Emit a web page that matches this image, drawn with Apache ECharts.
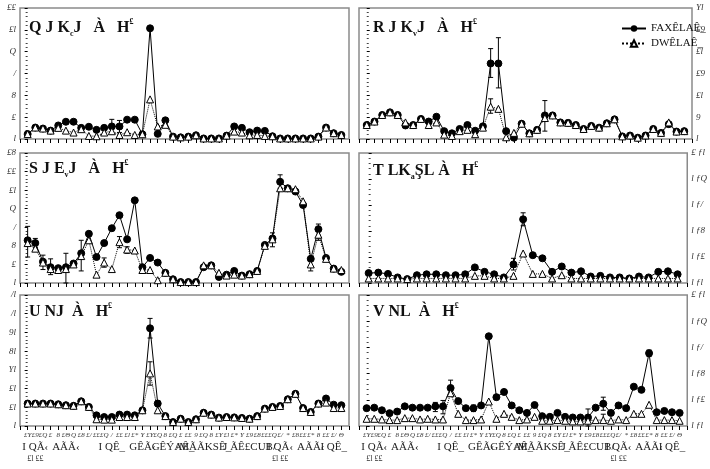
<!DOCTYPE html>
<html>
<head>
<meta charset="utf-8">
<script src="https://cdn.jsdelivr.net/npm/echarts@6/dist/echarts.min.js"></script>
<style>
  html, body { margin: 0; padding: 0; background: #fff; }
  #chart { width: 710px; height: 469px; }
</style>
</head>
<body>
<div id="chart"></div>
<script>
// series names (legend)
const nameA = 'FAXÊLAÊ_';
const nameB = 'DWÊLAÊ_';

// panel 1 (top left)
const p1A = [0.45, 1.05, 0.96, 0.77, 1.24, 1.58, 1.58, 1.02, 1.12, 0.84, 1.02, 1.15, 1.15, 1.77, 1.77, 0.43, 10.14, 0.47, 1.71, 0.22, 0.15, 0.22, 0.34, 0.05, 0.05, 0.05, 0.31, 1.15, 1.02, 0.62, 0.77, 0.74, 0.25, 0.05, 0.05, 0.05, 0.05, 0.05, 0.22, 1.05, 0.53, 0.37];
const p1B = [0.45, 1.05, 0.96, 0.77, 1.02, 0.77, 0.59, 0.9, 0.28, 0.25, 0.59, 0.71, 0.37, 0.62, 0.37, 0.43, 3.63, 1.15, 1.3, 0.22, 0.15, 0.22, 0.34, 0.05, 0.05, 0.05, 0.31, 0.68, 0.59, 0.34, 0.37, 0.28, 0.25, 0.05, 0.05, 0.05, 0.05, 0.05, 0.22, 1.05, 0.53, 0.37];
const p1ErrA = [[11, 0.5, 1.8], [12, 0.6, 1.7]];
const p1ErrB = [];

// panel 2 (top right)
const p2A = [3.2, 4.0, 5.5, 6.1, 5.5, 3.1, 3.2, 4.6, 4.0, 5.1, 1.8, 1.3, 2.3, 3.2, 1.9, 2.9, 17.3, 17.3, 1.8, 0.3, 3.5, 1.3, 2.1, 5.4, 5.4, 3.8, 3.7, 3.2, 2.3, 3.0, 2.6, 3.6, 4.5, 0.6, 0.8, 0.3, 0.8, 2.3, 1.4, 3.4, 1.7, 1.8];
const p2B = [3.2, 4.0, 5.5, 6.1, 5.5, 3.8, 3.2, 4.6, 3.2, 3.8, 1.0, 0.7, 1.8, 2.1, 1.1, 2.6, 7.4, 6.9, 0.4, 1.4, 3.5, 1.3, 2.1, 4.8, 5.4, 3.8, 3.7, 3.2, 2.3, 3.0, 2.6, 3.6, 4.5, 0.6, 0.8, 0.3, 0.8, 2.3, 1.4, 3.8, 1.7, 1.8];
const p2ErrA = [[16, 14.1, 20.7], [17, 11.7, 23.2], [23, 1.8, 8.8]];
const p2ErrB = [[16, 5.9, 9.2]];

// panel 3 (middle left)
const p3A = [4.6, 4.3, 2.3, 1.7, 1.6, 1.7, 2.1, 3.2, 5.3, 2.8, 4.3, 5.9, 7.3, 4.7, 8.9, 1.7, 2.7, 2.2, 1.1, 0.4, 0.1, 0.1, 0.1, 1.7, 1.9, 0.65, 0.9, 1.3, 0.8, 0.95, 1.3, 4.1, 4.8, 10.9, 10.2, 9.85, 8.4, 2.6, 5.8, 2.7, 1.55, 1.2];
const p3B = [4.3, 3.7, 2.2, 1.5, 1.4, 1.5, 2.0, 2.9, 4.6, 0.9, 2.2, 1.5, 4.4, 3.6, 3.5, 1.4, 1.4, 0.3, 1.1, 0.4, 0.1, 0.1, 0.1, 1.9, 1.9, 1.1, 0.8, 0.9, 0.8, 0.95, 1.3, 4.0, 4.7, 10.2, 10.2, 10.1, 8.8, 2.0, 5.2, 2.6, 1.55, 1.4];
const p3ErrA = [[0, 2.8, 6.1], [1, 3.8, 4.8], [2, 1.45, 3.0], [3, 0.9, 2.6], [5, 0, 3.2], [7, 1.3, 4.6], [8, 4.4, 5.5], [32, 3.9, 5.4], [33, 10.2, 11.65], [37, 1.3, 2.8], [38, 4.6, 6.35]];
const p3ErrB = [[10, 1.7, 2.7], [12, 3.8, 5.0], [13, 3.2, 3.9]];

// panel 4 (middle right), 33 points
const p4A = [0.076, 0.08, 0.07, 0.043, 0.03, 0.06, 0.067, 0.067, 0.06, 0.06, 0.067, 0.12, 0.086, 0.067, 0.043, 0.143, 0.49, 0.214, 0.19, 0.086, 0.127, 0.08, 0.09, 0.05, 0.055, 0.043, 0.043, 0.035, 0.05, 0.043, 0.086, 0.09, 0.067];
const p4B = [0.035, 0.035, 0.035, 0.035, 0.03, 0.035, 0.035, 0.035, 0.035, 0.035, 0.035, 0.055, 0.055, 0.035, 0.035, 0.055, 0.227, 0.07, 0.07, 0.035, 0.06, 0.035, 0.035, 0.035, 0.035, 0.035, 0.035, 0.035, 0.035, 0.035, 0.035, 0.035, 0.035];
const p4ErrA = [[15, 0.1, 0.19], [16, 0.44, 0.54]];
const p4ErrB = [];

// panel 5 (bottom left)
const p5A = [12, 12, 12, 12, 11.6, 11.1, 10.8, 13.2, 10.2, 5.7, 4.8, 4.8, 6.1, 6.1, 5.7, 8.4, 52.2, 12, 5.3, 2.1, 3.9, 2.1, 3.6, 7.1, 6.1, 4.5, 4.8, 4.6, 4.3, 3.9, 5.3, 9.3, 10.2, 10.7, 14.3, 17.2, 9.6, 7.5, 12, 14.7, 11.4, 11.1];
const p5B = [12, 12, 12, 12, 11.6, 11.1, 10.8, 13.2, 10.2, 3.6, 3.4, 3.4, 4.8, 4.8, 4.8, 8.4, 28.1, 8.4, 5.3, 2.1, 3.9, 2.1, 3.6, 7.1, 6.1, 4.5, 4.8, 4.6, 4.3, 3.9, 5.3, 9.3, 10.2, 10.7, 14.3, 17.2, 9.6, 7.5, 12, 12.5, 9.6, 9.6];
const p5ErrA = [[16, 47, 57.5], [17, 10.5, 13.5]];
const p5ErrB = [[16, 21.8, 34.3]];

// panel 6 (bottom right)
const p6A = [0.136, 0.14, 0.12, 0.098, 0.11, 0.15, 0.14, 0.14, 0.14, 0.15, 0.15, 0.29, 0.19, 0.136, 0.136, 0.157, 0.685, 0.22, 0.26, 0.157, 0.12, 0.1, 0.16, 0.075, 0.07, 0.1, 0.07, 0.065, 0.065, 0.065, 0.14, 0.17, 0.1, 0.157, 0.136, 0.3, 0.276, 0.556, 0.105, 0.115, 0.105, 0.1];
const p6B = [0.055, 0.055, 0.05, 0.045, 0.045, 0.06, 0.06, 0.05, 0.055, 0.05, 0.05, 0.25, 0.093, 0.045, 0.045, 0.05, 0.187, 0.055, 0.093, 0.07, 0.045, 0.05, 0.07, 0.04, 0.04, 0.045, 0.04, 0.035, 0.035, 0.04, 0.045, 0.045, 0.04, 0.05, 0.045, 0.093, 0.093, 0.162, 0.045, 0.045, 0.045, 0.04];
const p6ErrA = [[9, 0.11, 0.18], [10, 0.093, 0.195], [11, 0.23, 0.35], [14, 0.11, 0.16], [29, 0.0, 0.13], [31, 0.12, 0.22], [37, 0.53, 0.58]];
const p6ErrB = [[31, 0.04, 0.09]];

// y tick labels (as printed)
const p1Ticks = ['l', '£', '8', '/', 'Q', '£l', '££'];
const p2Ticks = ['l', '9', '£l', '£9', '£l', '£9', 'Yl'];
const p3Ticks = ['l', '£', '8', '/', 'Q', '£l', '££', '£8'];
const p4Ticks = ['l ƒl', 'l ƒ£', 'l ƒ8', 'l ƒ/', 'l ƒQ', '£ ƒl'];
const p5Ticks = ['l', '£l', '£l', 'Yl', '8l', '9l', '/l', '/l'];
const p6Ticks = ['l ƒl', 'l ƒ£', 'l ƒ8', 'l ƒ/', 'l ƒQ', '£ ƒl'];

// x labels (bottom row)
const dayLabels = ['£Y', '£9', '£Q', '£', '8', '£Θ', 'Q', '£8', '£/', '££', '£Q', '/', '££', '£l', '£*', 'Y', '£Y', '£Q', '8', '£Q', '£', '££', '9', '£Q', '8', '£Y', '£l', '£*', 'Y', '£9', '£8', '££', '£Q', '£/', '*', '£8', '££', '£*', '8', '££', '£/', 'Θ'];
const monthIdx = [1, 5, 11, 15, 19, 23, 29, 33, 37, 40];
const monthText = ['I QÃ‹', 'AÃÃ‹', 'I QÊ_', 'GÊÃ‹', 'GÊÝAÊ_', '/MÃÃKSÊ_', 'J ÃÊ£CUB/', 'I QÃ‹', 'AÃÃ‹', 'I QÊ_'];
const yearIdx = [1, 33];
const yearText = ['£l ££', '£l ££'];

const panels = [
  { A: p1A, B: p1B, eA: p1ErrA, eB: p1ErrB, max: 12, step: 2, ticks: p1Ticks, side: 'left', t: ['Q J K', 'c', 'J   À   H'] },
  { A: p2A, B: p2B, eA: p2ErrA, eB: p2ErrB, max: 30, step: 5, ticks: p2Ticks, side: 'right', t: ['R J K', 'v', 'J   À   H'] },
  { A: p3A, B: p3B, eA: p3ErrA, eB: p3ErrB, max: 14, step: 2, ticks: p3Ticks, side: 'left', t: ['S J E', 'v', 'J   À   H'] },
  { A: p4A, B: p4B, eA: p4ErrA, eB: p4ErrB, max: 1, step: 0.2, ticks: p4Ticks, side: 'right', t: ['T LK', 'a', 'ŞL À   H'] },
  { A: p5A, B: p5B, eA: p5ErrA, eB: p5ErrB, max: 70, step: 10, ticks: p5Ticks, side: 'left', t: ['U NJ', '', '  À   H'] },
  { A: p6A, B: p6B, eA: p6ErrA, eB: p6ErrB, max: 1, step: 0.2, ticks: p6Ticks, side: 'right', t: ['V NL', '', '  À   H'] }
];

const grids = [
  { left: 20, top: 8, width: 329, height: 131 },
  { left: 359, top: 8, width: 333, height: 131 },
  { left: 20, top: 153, width: 329, height: 130 },
  { left: 359, top: 153, width: 333, height: 130 },
  { left: 20, top: 295, width: 329, height: 131 },
  { left: 359, top: 295, width: 333, height: 131 }
];
const titlePos = [[29, 18], [373, 18], [29, 159], [373, 161], [29, 302], [373, 302]];

const serif = '"Liberation Serif", "Times New Roman", serif';

function xLabel(v) {
  if (v < 0 || v >= dayLabels.length) return '';
  const m = monthIdx.indexOf(v);
  const y = yearIdx.indexOf(v);
  return '{a|' + dayLabels[v] + '}\n{b|' + (m >= 0 ? monthText[m] : ' ') + '}\n{c|' + (y >= 0 ? yearText[y] : ' ') + '}';
}

function errSeries(data, k) {
  return {
    type: 'custom', xAxisIndex: k, yAxisIndex: k, data: data, silent: true,
    renderItem(params, api) {
      const x = api.value(0);
      const lo = api.coord([x, api.value(1)]);
      const hi = api.coord([x, api.value(2)]);
      const w = 2.5;
      const st = { stroke: '#000', lineWidth: 1 };
      return {
        type: 'group', children: [
          { type: 'line', shape: { x1: lo[0], y1: lo[1], x2: hi[0], y2: hi[1] }, style: st },
          { type: 'line', shape: { x1: lo[0] - w, y1: lo[1], x2: lo[0] + w, y2: lo[1] }, style: st },
          { type: 'line', shape: { x1: hi[0] - w, y1: hi[1], x2: hi[0] + w, y2: hi[1] }, style: st }
        ]
      };
    }
  };
}

const option = {
  animation: false,
  backgroundColor: '#fff',
  grid: grids.map(g => Object.assign({ show: true, borderColor: '#8a8a8a', borderWidth: 1.5, backgroundColor: 'transparent' }, g)),
  title: panels.map((p, k) => ({
    left: titlePos[k][0], top: titlePos[k][1], padding: 0,
    text: '{t|' + p.t[0] + '}' + (p.t[1] ? '{s|' + p.t[1] + '}' : '') + '{t|' + p.t[2] + '}{p|£}',
    textStyle: {
      rich: {
        t: { fontFamily: serif, fontSize: 16, color: '#111', lineHeight: 20 },
        s: { fontFamily: serif, fontSize: 8, color: '#111', verticalAlign: 'bottom' },
        p: { fontFamily: serif, fontSize: 8, color: '#111', verticalAlign: 'top' }
      }
    }
  })),
  legend: {
    orient: 'vertical', left: 616, top: 18, itemWidth: 24, itemHeight: 8, itemGap: 4,
    textStyle: { fontFamily: serif, fontSize: 11, color: '#111' },
    data: [nameA, nameB]
  },
  xAxis: panels.map((p, k) => ({
    type: 'value', gridIndex: k, min: -1, max: p.A.length, interval: 1,
    axisLine: { show: false },
    axisTick: { show: true, length: 4, lineStyle: { color: '#000', width: 1 } },
    splitLine: { show: false },
    axisLabel: {
      show: k >= 4, margin: 4, formatter: xLabel,
      rich: {
        a: { fontFamily: serif, fontStyle: 'italic', fontSize: 7, color: '#333', lineHeight: 11 },
        b: { fontFamily: serif, fontSize: 11, color: '#222', lineHeight: 12 },
        c: { fontFamily: serif, fontSize: 8, color: '#333', lineHeight: 12 }
      }
    }
  })),
  yAxis: panels.map((p, k) => ({
    type: 'value', gridIndex: k, position: p.side, min: 0, max: p.max, interval: p.step,
    axisLine: { show: false },
    axisTick: { show: true, length: 3, lineStyle: { color: '#000' } },
    minorTick: { show: true, splitNumber: 5, length: 2, lineStyle: { color: '#444' } },
    splitLine: { show: false },
    axisLabel: {
      margin: 4, fontFamily: serif, fontStyle: 'italic', fontSize: 9, color: '#333',
      formatter: v => p.ticks[Math.round(v / p.step)] || ''
    }
  })),
  series: []
};

panels.forEach((p, k) => {
  option.series.push(errSeries(p.eA, k));
  option.series.push(errSeries(p.eB, k));
  option.series.push({
    name: nameA, type: 'line', xAxisIndex: k, yAxisIndex: k,
    data: p.A.map((v, i) => [i, v]),
    symbol: 'circle', symbolSize: 7, showSymbol: true,
    lineStyle: { color: '#000', width: 1 },
    itemStyle: { color: '#000', borderColor: '#000' }
  });
  option.series.push({
    name: nameB, type: 'line', xAxisIndex: k, yAxisIndex: k,
    data: p.B.map((v, i) => [i, v]),
    symbol: 'triangle', symbolSize: 7, showSymbol: true,
    lineStyle: { color: '#000', width: 1, type: 'dotted' },
    itemStyle: { color: '#fff', borderColor: '#000', borderWidth: 1 }
  });
});

const chart = echarts.init(document.getElementById('chart'));
chart.setOption(option);
</script>
</body>
</html>
